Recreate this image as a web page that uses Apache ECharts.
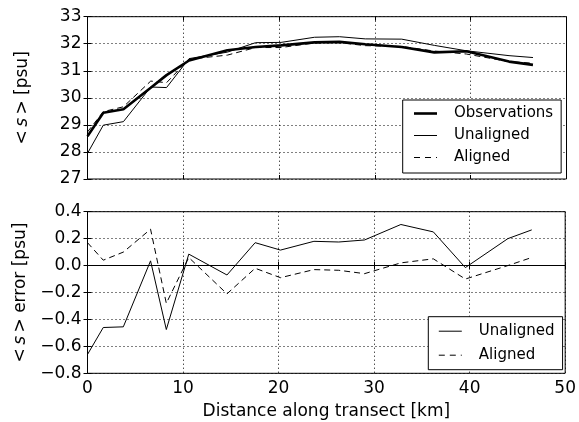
<!DOCTYPE html>
<html>
<head>
<meta charset="utf-8">
<script src="https://cdn.jsdelivr.net/npm/echarts@6/dist/echarts.min.js"></script>
<style>
  html, body { margin: 0; padding: 0; background: #fff; }
  #chart { width: 579px; height: 422px; }
</style>
</head>
<body>
<div id="chart"></div>
<script>
// Distance along the transect of each station [km]
const distanceKm = [0, 1.65, 3.75, 6.6, 8.25, 10.6, 14.6, 17.55, 20.2, 23.7, 26.3, 29.0, 32.8, 36.2, 39.55, 44.0, 46.5];

// Depth-averaged salinity <s> [psu]
const observed  = [28.58, 29.45, 29.58, 30.37, 30.84, 31.38, 31.76, 31.88, 31.94, 32.05, 32.07, 31.98, 31.88, 31.68, 31.72, 31.34, 31.22];
const unaligned = [27.95, 28.99, 29.12, 30.40, 30.38, 31.45, 31.69, 32.04, 32.05, 32.24, 32.26, 32.18, 32.17, 31.94, 31.74, 31.56, 31.49];
const aligned   = [28.74, 29.49, 29.67, 30.62, 30.56, 31.43, 31.58, 31.86, 31.86, 32.03, 32.04, 31.93, 31.90, 31.73, 31.62, 31.34, 31.28];

// Error of <s> relative to the observations [psu]
const unalignedErr = [-0.66, -0.46, -0.455, 0.035, -0.475, 0.085, -0.07, 0.17, 0.115, 0.18, 0.175, 0.19, 0.305, 0.25, -0.015, 0.20, 0.265];
const alignedErr   = [0.17, 0.04, 0.10, 0.27, -0.28, 0.06, -0.21, -0.02, -0.09, -0.03, -0.035, -0.06, 0.02, 0.05, -0.10, 0.00, 0.06];

// Axis ranges and legend names
const xRange = { min: 0, max: 50, interval: 10 };
const sRange = { min: 27, max: 33, interval: 1 };
const errRange = { min: -0.8, max: 0.4, interval: 0.2 };
const topLegend = ['Observations', 'Unaligned', 'Aligned'];
const bottomLegend = ['Unaligned', 'Aligned'];

const pair = (xs, ys) => xs.map((x, i) => [x, ys[i]]);
const FONT = 'DejaVu Sans';
const INK = '#000';

// Line look of each series, shared by the plot and its legend sample
const styles = {
  Observations: { color: INK, width: 2.6, type: 'solid' },
  Unaligned: { color: INK, width: 1, type: 'solid' },
  Aligned: { color: INK, width: 1, type: [6, 4] }
};

const dotted = { show: true, lineStyle: { color: INK, type: [1, 3], width: 1 } };
const ticksIn = { show: true, inside: true, length: 4, lineStyle: { color: INK, width: 1 } };
const minus = v => String(v).replace('-', '\u2212');

function xAxisFor(gridIndex, showLabels, position) {
  const main = position === 'bottom';
  return {
    type: 'value', gridIndex, position,
    min: xRange.min, max: xRange.max, interval: xRange.interval,
    axisLine: { show: false },
    axisTick: ticksIn,
    splitLine: main ? dotted : { show: false },
    axisLabel: { show: showLabels && main, color: INK, fontFamily: FONT, fontSize: 17, margin: 7 },
    name: showLabels && main ? 'Distance along transect [km]' : '',
    nameLocation: 'middle', nameGap: 30,
    nameTextStyle: { color: INK, fontFamily: FONT, fontSize: 17 }
  };
}

const yNameRich = {
  n: { fontFamily: FONT, fontSize: 17, color: INK },
  i: { fontFamily: FONT, fontSize: 17, fontStyle: 'italic', color: INK }
};

function yAxisFor(gridIndex, range, position, name, fmt) {
  const main = position === 'left';
  return {
    type: 'value', gridIndex, position,
    min: range.min, max: range.max, interval: range.interval,
    axisLine: { show: false },
    axisTick: ticksIn,
    splitLine: main ? dotted : { show: false },
    axisLabel: { show: main, color: INK, fontFamily: FONT, fontSize: 17, margin: 6, formatter: fmt },
    name: main ? name : '',
    nameLocation: 'middle', nameRotate: 90, nameGap: main ? 56 : 0,
    nameTextStyle: { rich: yNameRich, fontFamily: FONT, fontSize: 17, color: INK }
  };
}

const legendItems = names => names.map(name => ({
  name,
  itemStyle: { opacity: 0 },
  lineStyle: Object.assign({}, styles[name], name === 'Aligned' ? { type: [6, 5] } : {})
}));

const legendBase = {
  orient: 'vertical',
  backgroundColor: '#fff',
  borderColor: INK, borderWidth: 1, borderRadius: 0,
  itemWidth: 23, itemHeight: 14,
  itemStyle: { opacity: 0 },
  textStyle: { color: INK, fontFamily: FONT, fontSize: 15, padding: [0, 0, 0, 12] },
  selectedMode: false
};

function lineSeries(name, xIdx, yIdx, values, extra) {
  return Object.assign({
    name, type: 'line', xAxisIndex: xIdx, yAxisIndex: yIdx,
    data: pair(distanceKm, values), symbol: 'none',
    z: name === 'Observations' ? 5 : 4,
    itemStyle: { color: INK },
    lineStyle: styles[name]
  }, extra || {});
}

const option = {
  animation: false,
  backgroundColor: '#fff',
  grid: [
    { left: 87.5, top: 16.7, width: 479, height: 162.3, show: true, borderColor: INK, borderWidth: 1, backgroundColor: 'transparent' },
    { left: 87.5, top: 211.7, width: 479, height: 161.6, show: true, borderColor: INK, borderWidth: 1, backgroundColor: 'transparent' }
  ],
  xAxis: [
    xAxisFor(0, false, 'bottom'),
    xAxisFor(0, false, 'top'),
    xAxisFor(1, true, 'bottom'),
    xAxisFor(1, false, 'top')
  ],
  yAxis: [
    yAxisFor(0, sRange, 'left', '{n|<\u2009}{i|s}{n|\u2009> [psu]}', v => String(v)),
    yAxisFor(0, sRange, 'right', '', null),
    yAxisFor(1, errRange, 'left', '{n|<\u2009}{i|s}{n|\u2009> error [psu]}', v => minus(v.toFixed(1))),
    yAxisFor(1, errRange, 'right', '', null)
  ],
  legend: [
    Object.assign({}, legendBase, {
      data: legendItems(topLegend), left: 402.7, top: 100, itemGap: 7,
      padding: [6, 8, 8, 10]
    }),
    Object.assign({}, legendBase, {
      data: legendItems(bottomLegend), left: 428.3, top: 316.7, itemGap: 9,
      padding: [7, 8, 7, 10]
    })
  ],
  series: [
    lineSeries('Observations', 0, 0, observed),
    lineSeries('Unaligned', 0, 0, unaligned),
    lineSeries('Aligned', 0, 0, aligned),
    lineSeries('Unaligned', 2, 2, unalignedErr, {
      markLine: {
        silent: true, symbol: 'none', label: { show: false },
        lineStyle: { color: INK, width: 1, type: 'solid' },
        data: [{ yAxis: 0 }]
      }
    }),
    lineSeries('Aligned', 2, 2, alignedErr)
  ]
};

const chart = echarts.init(document.getElementById('chart'), null, { renderer: 'canvas' });
chart.setOption(option);
</script>
</body>
</html>
